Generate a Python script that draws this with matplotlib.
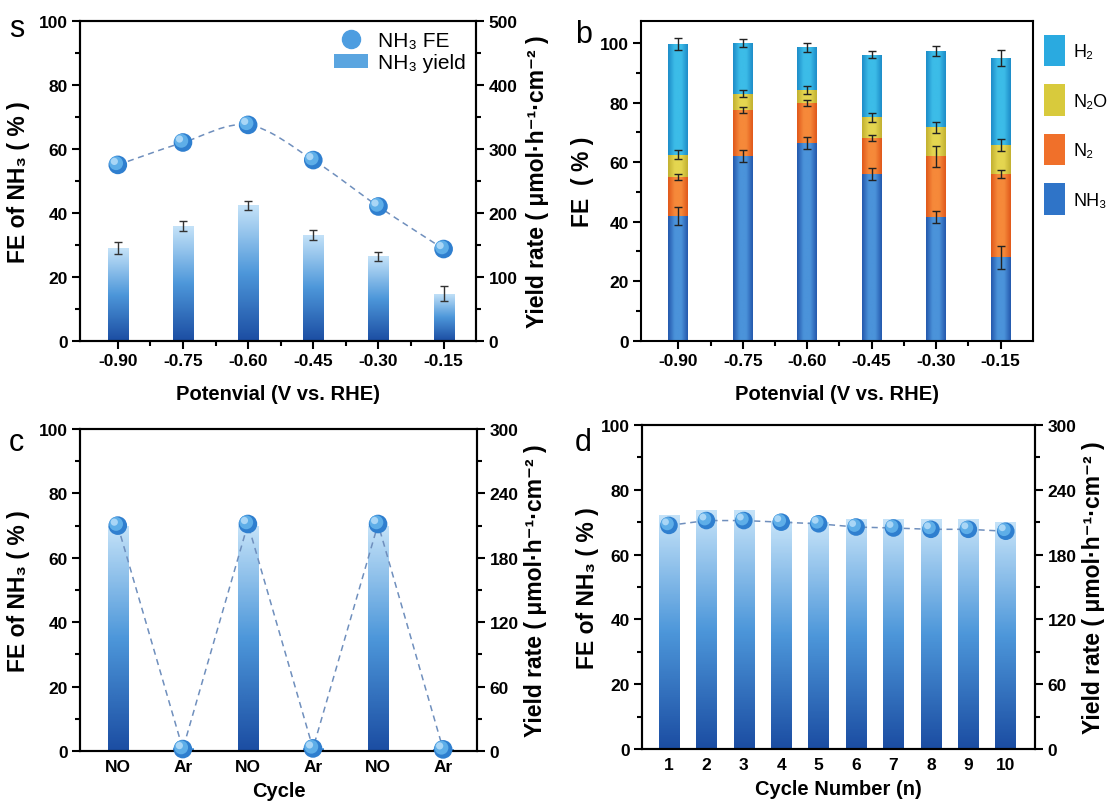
import matplotlib
matplotlib.use("Agg")
import matplotlib.pyplot as plt
import numpy as np
from matplotlib.colors import LinearSegmentedColormap
from matplotlib.patches import Rectangle, PathPatch, Patch
from matplotlib.lines import Line2D
from matplotlib.path import Path
from matplotlib.ticker import MultipleLocator
import matplotlib.transforms as mtransforms

plt.rcParams['font.family'] = ['Liberation Sans Narrow', 'Liberation Sans', 'DejaVu Sans']

# ---- data ----
potentials = ['-0.90', '-0.75', '-0.60', '-0.45', '-0.30', '-0.15']
a_yield = [145, 179, 212, 166, 132, 74]
a_yield_err = [10, 8, 7, 8, 7, 11]
a_fe = [55, 62, 67.5, 56.5, 42, 28.7]

b_nh3 = [42, 62, 66.5, 56, 41.5, 28]
b_n2 = [13, 15.5, 13.3, 12, 20.5, 28]
b_n2o = [7.5, 5.5, 4.5, 7, 9.7, 9.8]
b_h2 = [37, 17, 14.3, 21, 25.6, 29.2]
b_nh3_err = [3, 2, 2, 2, 2, 4]
b_n2_err = [1, 1, 1, 1, 3.5, 1.2]
b_n2o_err = [1.5, 1.2, 1.3, 1.5, 1.8, 2]
b_h2_err = [2, 1.3, 1.5, 1.2, 1.7, 2.8]

cycles = ['NO', 'Ar', 'NO', 'Ar', 'NO', 'Ar']
c_yield = [210, 3, 210, 3, 210, 2]
c_fe = [70, 0.6, 70.5, 0.8, 70.5, 0.5]

cycle_num = [1, 2, 3, 4, 5, 6, 7, 8, 9, 10]
d_yield = [217, 221, 221, 211, 210, 213, 213, 213, 213, 210]
d_fe = [69, 70.5, 70.5, 70, 69.5, 68.5, 68.2, 67.8, 67.8, 67.2]

# ---- styles ----
bold = dict(fontweight='bold')
vert_cmap = LinearSegmentedColormap.from_list('v', ['#1c4ea3', '#4d97da', '#c4e2f8'])
line_col = '#6f8fbd'
YL = 'Yield rate ( μmol·h⁻¹·cm⁻² )'
FL = 'FE of NH₃ ( % )'


def cyl_cmap(base_dark, base_light):
    return LinearSegmentedColormap.from_list('c', [base_dark, base_light, base_light, base_dark])


def grad_bar(ax, x, bottom, h, w, cmap, horizontal=False):
    rect = Rectangle((x - w / 2, bottom), w, h, facecolor='none', edgecolor='none')
    ax.add_patch(rect)
    if horizontal:
        g = np.linspace(0, 1, 64).reshape(1, -1)
    else:
        g = np.linspace(0, 1, 64).reshape(-1, 1)
    im = ax.imshow(g, cmap=cmap, extent=[x - w / 2, x + w / 2, bottom, bottom + h],
                   origin='lower', aspect='auto', zorder=2, interpolation='bicubic')
    im.set_clip_path(rect)


def spheres(ax, xs, ys, s=180):
    fig = ax.figure
    ax.scatter(xs, ys, s=s, color='#2f7fcf', zorder=5, clip_on=False, edgecolors='none')
    off1 = mtransforms.offset_copy(ax.transData, fig=fig, x=-1.2, y=1.2, units='points')
    ax.scatter(xs, ys, s=s * 0.55, color='#5eaee8', zorder=6, clip_on=False,
               edgecolors='none', transform=off1)
    off2 = mtransforms.offset_copy(ax.transData, fig=fig, x=-2.5, y=2.5, units='points')
    ax.scatter(xs, ys, s=s * 0.15, color='#a9d6f6', zorder=7, clip_on=False,
               edgecolors='none', transform=off2)


def smooth_path(xs, ys):
    pts = np.column_stack([xs, ys]).astype(float)
    n = len(pts)
    verts = [pts[0]]
    codes = [Path.MOVETO]
    for i in range(n - 1):
        p0 = pts[i - 1] if i > 0 else pts[i]
        p1 = pts[i]
        p2 = pts[i + 1]
        p3 = pts[i + 2] if i + 2 < n else pts[i + 1]
        c1 = p1 + (p2 - p0) / 6
        c2 = p2 - (p3 - p1) / 6
        verts += [c1, c2, p2]
        codes += [Path.CURVE4] * 3
    return Path(verts, codes)


def style_axis(ax):
    for sp in ax.spines.values():
        sp.set_linewidth(1.5)
    ax.tick_params(which='major', direction='out', length=6, width=1.5, labelsize=12.5,
                   pad=3)
    ax.tick_params(which='minor', direction='out', length=3.5, width=1.5)
    for lab in ax.get_xticklabels() + ax.get_yticklabels():
        lab.set_fontweight('bold')


fig = plt.figure(figsize=(11.16, 8.12), dpi=100)

# ---------- panel a ----------
ax = fig.add_axes([0.0717, 0.579, 0.355, 0.394])
ax2 = ax.twinx()
xa = np.arange(len(potentials))
for i in xa:
    grad_bar(ax2, i, 0, a_yield[i], 0.31, vert_cmap)
ax2.errorbar(xa, a_yield, yerr=a_yield_err, fmt='none', ecolor='#333333', elinewidth=1,
             capsize=3, capthick=1, zorder=4)
ax2.set_ylim(0, 500)
ax2.yaxis.set_major_locator(MultipleLocator(100))
ax2.yaxis.set_minor_locator(MultipleLocator(50))
ax.set_zorder(ax2.get_zorder() + 1)
ax.patch.set_visible(False)
ax.add_patch(PathPatch(smooth_path(xa, a_fe), fill=False, edgecolor=line_col,
                       linestyle=(0, (4, 3)), linewidth=1.1, zorder=3))
spheres(ax, xa, a_fe)
ax.set_xlim(-0.58, 5.5)
ax.set_ylim(0, 100)
ax.set_xticks(xa)
ax.set_xticklabels(potentials)
ax.set_xticks(xa[:-1] + 0.5, minor=True)
ax.yaxis.set_major_locator(MultipleLocator(20))
ax.yaxis.set_minor_locator(MultipleLocator(10))
style_axis(ax)
style_axis(ax2)
ax.set_ylabel(FL, fontsize=16.5, labelpad=6, **bold)
ax2.set_ylabel(YL, fontsize=16.5, labelpad=6, **bold)
ax.set_xlabel('Potenvial (V vs. RHE)', fontsize=14.5, labelpad=11, **bold)
leg_handles = [Line2D([], [], marker='o', linestyle='none', markersize=13,
                      markerfacecolor='#4d9de0', markeredgecolor='#4d9de0'),
               Patch(facecolor='#5aa5e0', edgecolor='none')]
ax.legend(leg_handles, ['NH₃ FE', 'NH₃ yield'], loc='upper right', frameon=False,
          fontsize=15, handlelength=1.6, handletextpad=0.5, borderaxespad=0.1,
          labelspacing=0.15)
fig.text(0.008, 0.955, 's', fontsize=22)

# ---------- panel b ----------
bx = fig.add_axes([0.5744, 0.579, 0.351, 0.394])
xb = np.arange(len(potentials))
nh3_cmap = cyl_cmap('#2458ac', '#4b93da')
n2_cmap = cyl_cmap('#e0581a', '#f6893a')
n2o_cmap = cyl_cmap('#c2b030', '#e4d650')
h2_cmap = cyl_cmap('#1d8cc8', '#3cbce8')
bw = 0.31
for i in xb:
    b0 = 0
    for vals, cm in [(b_nh3, nh3_cmap), (b_n2, n2_cmap), (b_n2o, n2o_cmap), (b_h2, h2_cmap)]:
        grad_bar(bx, i, b0, vals[i], bw, cm, horizontal=True)
        b0 += vals[i]
tops = np.zeros(len(xb))
for vals, errs in [(b_nh3, b_nh3_err), (b_n2, b_n2_err), (b_n2o, b_n2o_err), (b_h2, b_h2_err)]:
    tops = tops + np.array(vals)
    bx.errorbar(xb, tops, yerr=errs, fmt='none', ecolor='#222222', elinewidth=1,
                capsize=3, capthick=1, zorder=4)
bx.set_xlim(-0.58, 5.5)
bx.set_ylim(0, 107.4)
bx.set_xticks(xb)
bx.set_xticklabels(potentials)
bx.set_xticks(xb[:-1] + 0.5, minor=True)
bx.yaxis.set_major_locator(MultipleLocator(20))
bx.yaxis.set_minor_locator(MultipleLocator(10))
style_axis(bx)
bx.set_ylabel('FE  ( % )', fontsize=16.5, labelpad=4, **bold)
bx.set_xlabel('Potenvial (V vs. RHE)', fontsize=14.5, labelpad=11, **bold)
b_handles = [Patch(facecolor='#2aaae0'), Patch(facecolor='#d8ca3c'),
             Patch(facecolor='#f0702a'), Patch(facecolor='#2f74c8')]
bx.legend(b_handles, ['H₂', 'N₂O', 'N₂', 'NH₃'], loc='upper left',
          bbox_to_anchor=(1.0, 0.99), frameon=False, fontsize=13,
          handlelength=1.2, handleheight=2.3, labelspacing=1.0, handletextpad=0.45,
          borderaxespad=0.2)
fig.text(0.515, 0.947, 'b', fontsize=22)

# ---------- panel c ----------
cx = fig.add_axes([0.0717, 0.0739, 0.3557, 0.3965])
cx2 = cx.twinx()
xc = np.arange(len(cycles))
for i in xc:
    grad_bar(cx2, i, 0, c_yield[i], 0.31, vert_cmap)
cx2.set_ylim(0, 300)
cx2.yaxis.set_major_locator(MultipleLocator(60))
cx2.yaxis.set_minor_locator(MultipleLocator(30))
cx.set_zorder(cx2.get_zorder() + 1)
cx.patch.set_visible(False)
cx.plot(xc, c_fe, linestyle=(0, (4, 3)), color=line_col, linewidth=1.1, zorder=3)
spheres(cx, xc, c_fe)
cx.set_xlim(-0.58, 5.52)
cx.set_ylim(0, 100)
cx.set_xticks(xc)
cx.set_xticklabels(cycles)
cx.yaxis.set_major_locator(MultipleLocator(20))
cx.yaxis.set_minor_locator(MultipleLocator(10))
style_axis(cx)
style_axis(cx2)
cx.tick_params(axis='x', which='major', length=0, pad=6)
cx.set_ylabel(FL, fontsize=16.5, labelpad=6, **bold)
cx2.set_ylabel(YL, fontsize=16.5, labelpad=4, **bold)
cx.set_xlabel('Cycle', fontsize=14.5, labelpad=5, **bold)
fig.text(0.008, 0.445, 'c', fontsize=22)

# ---------- panel d ----------
dx = fig.add_axes([0.5753, 0.0764, 0.3521, 0.399])
dx2 = dx.twinx()
for i, n in enumerate(cycle_num):
    grad_bar(dx2, n, 0, d_yield[i], 0.55, vert_cmap)
dx2.set_ylim(0, 300)
dx2.yaxis.set_major_locator(MultipleLocator(60))
dx2.yaxis.set_minor_locator(MultipleLocator(30))
dx.set_zorder(dx2.get_zorder() + 1)
dx.patch.set_visible(False)
dx.plot(cycle_num, d_fe, linestyle=(0, (4, 3)), color=line_col, linewidth=1.1, zorder=3)
spheres(dx, cycle_num, d_fe, s=160)
dx.set_xlim(0.28, 10.78)
dx.set_ylim(0, 100)
dx.set_xticks(cycle_num)
dx.yaxis.set_major_locator(MultipleLocator(20))
dx.yaxis.set_minor_locator(MultipleLocator(10))
style_axis(dx)
style_axis(dx2)
dx.tick_params(axis='x', which='major', length=0, pad=6)
dx.set_ylabel(FL, fontsize=16.5, labelpad=1, **bold)
dx2.set_ylabel(YL, fontsize=16.5, labelpad=4, **bold)
dx.set_xlabel('Cycle Number (n)', fontsize=14.5, labelpad=5, **bold)
fig.text(0.515, 0.445, 'd', fontsize=22)

fig.savefig('out.png', dpi=100)
